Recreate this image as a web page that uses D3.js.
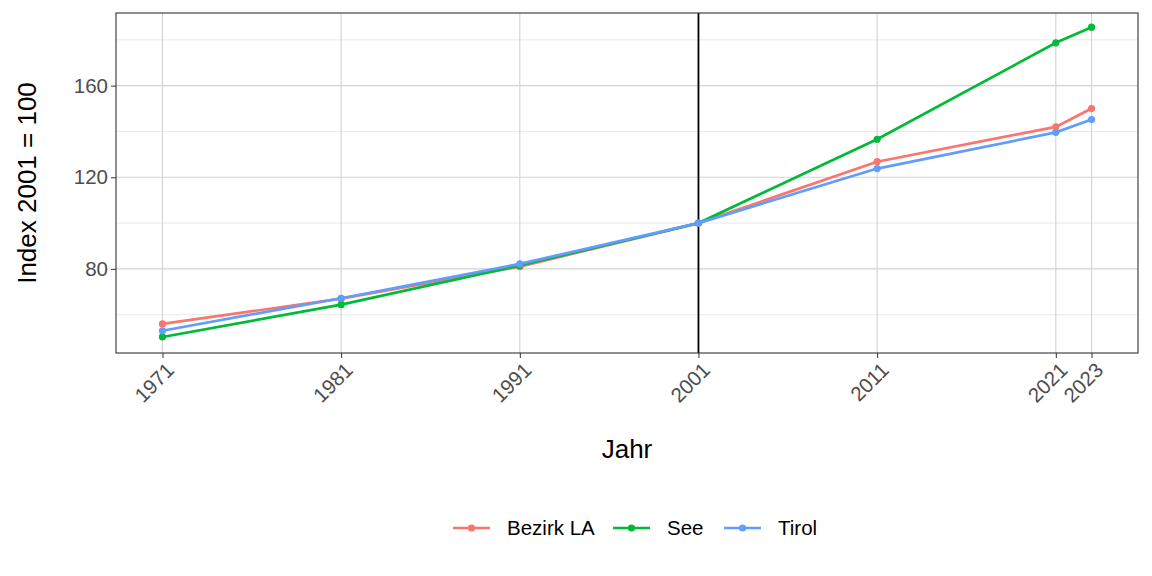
<!DOCTYPE html>
<html><head><meta charset="utf-8">
<script src="https://cdn.jsdelivr.net/npm/d3@7/dist/d3.min.js"></script>
<style>body{margin:0;background:#fff}svg{display:block;font-family:Arial,"Liberation Sans",sans-serif}</style>
</head><body><svg id="c" width="1152" height="576"></svg>
<script>
const years = [1971, 1981, 1991, 2001, 2011, 2021, 2023];
const seriesNames = ["Bezirk LA", "See", "Tirol"];
const bezirkLA = [56.0, 67.0, 81.0, 100, 126.8, 142.0, 150.0];
const see = [50.3, 64.4, 81.5, 100, 136.6, 178.7, 185.5];
const tirol = [53.0, 67.2, 82.2, 100, 123.8, 139.6, 145.2];
const colors = ["#F8766D", "#00BA38", "#619CFF"];
const yTicks = [80, 120, 160];
const yMinor = [60, 100, 140, 180];

const FONT = "Arial,'Liberation Sans',sans-serif";
const svg = d3.select("#c");
const L = 116, R = 1138, T = 13, B = 353;
const x = d3.scaleLinear().domain([1968.4, 2025.6]).range([L, R]);
const y = d3.scaleLinear().domain([43.3, 191.7]).range([B, T]);

const g = svg.append("g");
// minor grid
g.selectAll(".ym").data(yMinor).join("line").attr("x1", L).attr("x2", R)
  .attr("y1", d => y(d)).attr("y2", d => y(d)).attr("stroke", "#e3e3e3").attr("stroke-width", 0.8);
// major grid
g.selectAll(".yg").data(yTicks).join("line").attr("x1", L).attr("x2", R)
  .attr("y1", d => y(d)).attr("y2", d => y(d)).attr("stroke", "#d3d3d3").attr("stroke-width", 1.1);
g.selectAll(".xg").data(years).join("line").attr("y1", T).attr("y2", B)
  .attr("x1", d => x(d)).attr("x2", d => x(d)).attr("stroke", "#d3d3d3").attr("stroke-width", 1.1);

// vertical reference line
g.append("line").attr("x1", x(2001)).attr("x2", x(2001)).attr("y1", T).attr("y2", B)
  .attr("stroke", "#000").attr("stroke-width", 1.8);

const data = [bezirkLA, see, tirol];
const line = d3.line().x((d, i) => x(years[i])).y(d => y(d));
data.forEach((vals, k) => {
  g.append("path").attr("d", line(vals)).attr("fill", "none")
    .attr("stroke", colors[k]).attr("stroke-width", 2.7);
  g.selectAll(".p" + k).data(vals).join("circle")
    .attr("cx", (d, i) => x(years[i])).attr("cy", d => y(d)).attr("r", 3.6).attr("fill", colors[k]);
});

// panel border
g.append("rect").attr("x", L).attr("y", T).attr("width", R - L).attr("height", B - T)
  .attr("fill", "none").attr("stroke", "#333").attr("stroke-width", 1.1);

// axes
const yAxis = svg.append("g").attr("transform", `translate(${L},0)`)
  .call(d3.axisLeft(y).tickValues(yTicks).tickSize(5).tickPadding(3));
yAxis.select(".domain").remove();
yAxis.selectAll("line").attr("stroke", "#333");
yAxis.selectAll("text").attr("font-size", 20.5).attr("fill", "#4d4d4d").attr("font-family", FONT);

const xAxis = svg.append("g").attr("transform", `translate(0,${B})`)
  .call(d3.axisBottom(x).tickValues(years).tickFormat(d3.format("d")).tickSize(5));
xAxis.select(".domain").remove();
xAxis.selectAll("line").attr("stroke", "#333");
xAxis.selectAll("text").attr("font-size", 20.5).attr("fill", "#4d4d4d")
  .attr("font-family", FONT)
  .attr("text-anchor", "end").attr("y", 0).attr("dy", "0.72em")
  .attr("transform", "translate(2,8) rotate(-45)");

// titles
svg.append("text").attr("x", (L + R) / 2).attr("y", 458).attr("text-anchor", "middle")
  .attr("font-size", 26).attr("fill", "#000").attr("font-family", FONT).text("Jahr");
svg.append("text").attr("transform", `translate(36,${(T + B) / 2}) rotate(-90)`)
  .attr("text-anchor", "middle").attr("font-size", 26).attr("fill", "#000").attr("font-family", FONT)
  .text("Index 2001 = 100");

// legend
const legX = [453, 613, 724];
const lg = svg.append("g");
seriesNames.forEach((n, k) => {
  const lx = legX[k];
  lg.append("line").attr("x1", lx).attr("x2", lx + 37).attr("y1", 528).attr("y2", 528)
    .attr("stroke", colors[k]).attr("stroke-width", 2.7);
  lg.append("circle").attr("cx", lx + 18.5).attr("cy", 528).attr("r", 3.6).attr("fill", colors[k]);
  lg.append("text").attr("x", lx + 54).attr("y", 528).attr("dy", "0.35em")
    .attr("font-size", 20.5).attr("fill", "#000").attr("font-family", FONT).text(n);
});
</script></body></html>
